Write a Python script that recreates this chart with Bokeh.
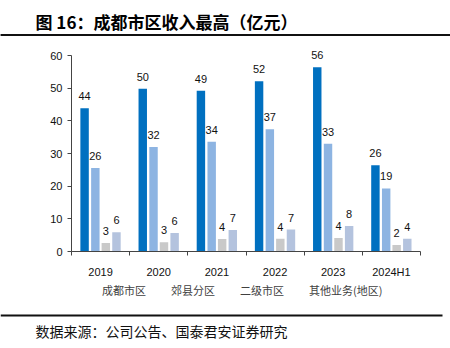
from bokeh.plotting import figure
from bokeh.layouts import column
from bokeh.models import (ColumnDataSource, Range1d, FixedTicker, Legend, LegendItem, Span)
from bokeh.transform import dodge
from bokeh.core.properties import value
from bokeh.embed import file_html
from bokeh.resources import INLINE

# ---- data ----
years = ["2019", "2020", "2021", "2022", "2023", "2024H1"]
chengdu = [43.9, 49.8, 49.2, 52.1, 56.4, 26.4]      # 成都市区
jiaoxian = [25.6, 32.0, 33.6, 37.4, 33.0, 19.3]     # 郊县分区
erji = [2.6, 2.8, 3.8, 3.9, 4.1, 2.0]               # 二级市区
qita = [5.9, 5.7, 6.6, 6.7, 7.8, 3.9]               # 其他业务(地区)
series_names = ["成都市区", "郊县分区", "二级市区", "其他业务(地区)"]
y_ticks = [0, 10, 20, 30, 40, 50, 60]
title_text = "图 16：成都市区收入最高（亿元）"
source_text = "数据来源：公司公告、国泰君安证券研究"

colors = ["#0070C0", "#8DB4E2", "#C9C9C9", "#B4C3DE"]
offsets = [-0.275, -0.09, 0.09, 0.273]
bar_w = 0.145
CJK = "Noto Sans CJK SC"
LAT = "Liberation Sans"

W = 450
HH = 40
# ---- header ----
head = figure(width=W, height=HH, x_range=Range1d(0, W), y_range=Range1d(HH, 0),
              output_backend="svg", toolbar_location=None,
              x_axis_location=None, y_axis_location=None,
              min_border=0, min_border_left=0, min_border_right=0,
              min_border_top=0, min_border_bottom=0,
              outline_line_color=None, frame_align=False)
head.grid.visible = False
head.rect(x=[221], y=[34.5], width=442, height=2, fill_color="#111111", line_color=None)
head.add_layout(Span(location=34.5, dimension="width", line_color="#111111", line_width=2))
head.text(x=[35], y=[21], text=[title_text], text_font=value(CJK),
          text_font_size="17px", text_font_style="bold", text_color="#000000",
          text_baseline="middle", text_align="left")

# ---- main chart ----
xc = [i + 0.5 for i in range(len(years))]
src = ColumnDataSource(dict(
    x=xc, s0=chengdu, s1=jiaoxian, s2=erji, s3=qita,
    l0=[str(round(v)) for v in chengdu], l1=[str(round(v)) for v in jiaoxian],
    l2=[str(round(v)) for v in erji], l3=[str(round(v)) for v in qita],
))

MH = 241
p = figure(width=W, height=MH, x_range=Range1d(0, len(years)), y_range=Range1d(0, 64),
           output_backend="svg", toolbar_location=None,
           min_border_left=71, min_border_right=30, min_border_top=2, min_border_bottom=30,
           outline_line_color=None, frame_align=False)
p.grid.visible = False

for k in range(4):
    p.vbar(x=dodge("x", offsets[k]), top="s%d" % k, width=bar_w, source=src,
           fill_color=colors[k], line_color=None)
    p.text(x=dodge("x", offsets[k]), y="s%d" % k, text="l%d" % k, source=src,
           text_font=value(LAT), text_font_size="11px", text_color="#111111",
           text_align="center", text_baseline="bottom", y_offset=-8)

p.yaxis.ticker = FixedTicker(ticks=y_ticks)
p.yaxis.bounds = (0, 60)
p.yaxis.axis_line_color = "#444444"
p.yaxis.major_tick_line_color = "#444444"
p.yaxis.major_tick_out = 4
p.yaxis.major_tick_in = 0
p.yaxis.minor_tick_line_color = None
p.yaxis.major_label_text_font = LAT
p.yaxis.major_label_text_font_size = "11px"
p.yaxis.major_label_text_color = "#111111"
p.yaxis.major_label_standoff = 5

p.xaxis.ticker = FixedTicker(ticks=xc, minor_ticks=list(range(len(years) + 1)))
p.xaxis.major_label_overrides = {xc[i]: years[i] for i in range(len(years))}
p.xaxis.axis_line_color = "#444444"
p.xaxis.major_tick_line_color = None
p.xaxis.minor_tick_line_color = "#444444"
p.xaxis.minor_tick_out = 4
p.xaxis.minor_tick_in = 0
p.xaxis.major_label_text_font = LAT
p.xaxis.major_label_text_font_size = "11px"
p.xaxis.major_label_text_color = "#111111"
p.xaxis.major_label_standoff = 8

# ---- footer (legend, rule, source) ----
FH = 348 - HH - MH
top0 = HH + MH
foot = figure(width=W, height=FH, x_range=Range1d(0, W), y_range=Range1d(FH, 0),
              output_backend="svg", toolbar_location=None,
              x_axis_location=None, y_axis_location=None,
              min_border=0, min_border_left=0, min_border_right=0,
              min_border_top=0, min_border_bottom=0,
              outline_line_color=None, frame_align=False)
foot.grid.visible = False
items = []
for k in range(4):
    rr = foot.vbar(x=[], top=[], width=1, fill_color=colors[k], line_color=None)
    items.append(LegendItem(label=series_names[k], renderers=[rr]))
legend = Legend(items=items, orientation="horizontal",
                location=(93, FH - (298 - top0)),
                glyph_width=6, glyph_height=6, label_standoff=3, spacing=16,
                label_text_font=CJK, label_text_font_size="11px",
                label_text_color="#404040", label_height=12,
                border_line_color=None, background_fill_alpha=0,
                padding=0, margin=0)
foot.add_layout(legend, "center")
foot.rect(x=[221], y=[315 - top0], width=442, height=2, fill_color="#111111", line_color=None)
foot.text(x=[35], y=[330 - top0], text=[source_text], text_font=value(CJK),
          text_font_size="14px", text_color="#111111",
          text_baseline="middle", text_align="left")

layout = column(head, p, foot, spacing=0)
open("out.html", "w").write(file_html(layout, INLINE))
